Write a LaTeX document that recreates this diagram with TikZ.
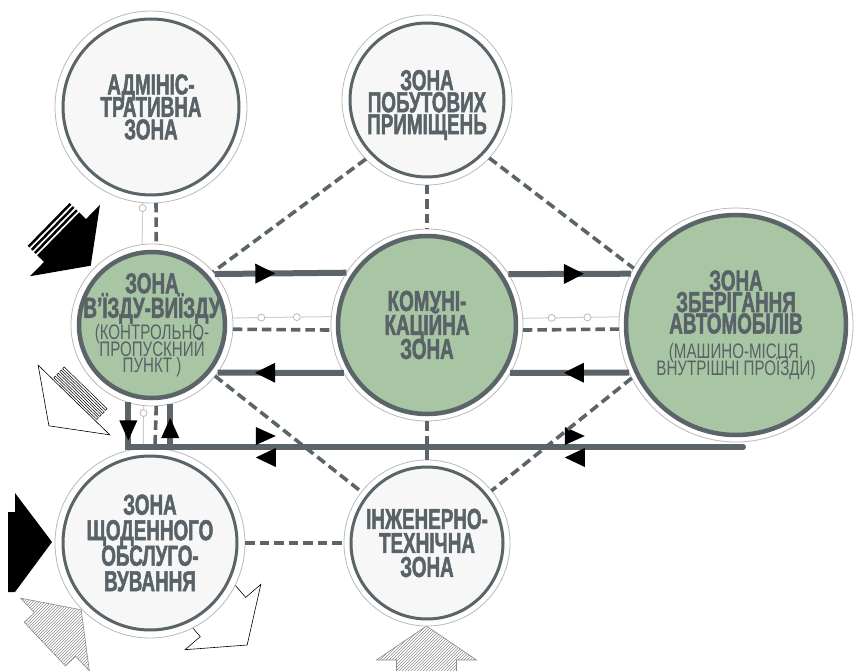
\documentclass[tikz,border=0pt]{standalone}
\usepackage{fontspec}
\setmainfont{Liberation Sans}[FakeStretch=0.65, BoldFeatures={FakeBold=1.6}]
\newfontfamily\zsmallfamily{Liberation Sans}[FakeStretch=0.72]
\usetikzlibrary{patterns,decorations.markings,backgrounds}

\definecolor{zgreen}{RGB}{168,197,164}
\definecolor{zdark}{RGB}{90,100,105}
\definecolor{ztext}{RGB}{88,98,103}
\definecolor{zpale}{RGB}{247,247,247}
\definecolor{zring}{RGB}{185,185,185}
\definecolor{zthin}{RGB}{205,205,205}
\definecolor{zhatch}{RGB}{140,140,140}

\newcommand\zbf[1]{\fontsize{29}{#1}\selectfont\bfseries\lineskiplimit=-100pt\relax}
\newcommand\zsm{\zsmallfamily\fontsize{21}{17}\selectfont\mdseries}

\tikzset{
  zone/.style={circle, draw=zdark, line width=3pt, inner sep=0pt},
  green zone/.style={zone, fill=zgreen, line width=4.5pt},
  pale zone/.style={zone, fill=zpale},
  ztxt/.style={align=center, text=ztext, inner sep=0pt},
  ring/.style={draw=zring, line width=0.8pt, fill=white},
  flow/.style={draw=zdark, line width=6pt},
  link/.style={draw=zdark, line width=3.6pt, dash pattern=on 9.5pt off 5pt},
  hint/.style={draw=zthin, line width=1pt},
  knot/.style={circle, draw=zring, fill=white, line width=0.8pt, minimum size=7pt, inner sep=0pt},
  fwd/.style={postaction={decorate, decoration={markings,
      mark=at position #1 with {\fill[black] (-10pt,-10pt) -- (10pt,0pt) -- (-10pt,10pt) -- cycle;}}}},
  outline arrow/.style={draw=black, line width=0.6pt, fill=white},
  hatched arrow/.style={draw=zhatch, line width=0.6pt, pattern=north east lines, pattern color=zhatch},
}

\begin{document}
\begin{tikzpicture}[x=1pt,y=-1pt]
\useasboundingbox (0,0) rectangle (854,671);

% zones
\node[pale zone,  minimum size=176pt, outer sep=8pt] (adm)   at (151,107) {};
\node[pale zone,  minimum size=154pt, outer sep=8pt] (pob)   at (427,100) {};
\node[green zone, minimum size=146pt, outer sep=8pt] (ent)   at (152,325) {};
\node[green zone, minimum size=178pt, outer sep=7pt] (comm)  at (427,325) {};
\node[green zone, minimum size=220pt, outer sep=7pt] (stor)  at (736,325) {};
\node[pale zone,  minimum size=174pt, outer sep=8pt] (daily) at (150,543) {};
\node[pale zone,  minimum size=152pt, outer sep=7pt] (eng)   at (427,543) {};

\begin{pgfonlayer}{background}
  % entrance arrow, upper left
  \begin{scope}[shift={(65,240.5)}, rotate=-44.4]
    \fill[black] (0pt,50pt) -- (36pt,0pt) -- (0pt,-50pt) -- cycle;
    \fill[black] (-9.5pt,-30pt) rectangle (0.5pt,30pt);
    \fill[black] (-14pt,-30pt) rectangle (-11.5pt,30pt);
    \fill[black] (-18.5pt,-30pt) rectangle (-16pt,30pt);
    \fill[black] (-23pt,-30pt) rectangle (-20.5pt,30pt);
  \end{scope}
  % exit arrow, lower left of the entry zone
  \begin{scope}[shift={(74,400)}, rotate=-134.2]
    \draw[outline arrow] (0pt,50pt) -- (36pt,0pt) -- (0pt,-50pt) -- cycle;
    \draw[outline arrow, line width=0.5pt] (-4.2pt,-30pt) rectangle (-2pt,30pt);
    \draw[outline arrow, line width=0.5pt] (-8.4pt,-30pt) rectangle (-6.2pt,30pt);
    \draw[outline arrow, line width=0.5pt] (-12.6pt,-30pt) rectangle (-10.4pt,30pt);
    \draw[outline arrow, line width=0.5pt] (-16.8pt,-30pt) rectangle (-14.6pt,30pt);
  \end{scope}
  % arrows around the daily service zone
  \fill[black] (8,512) -- (15,512) -- (15,493) -- (52,542) -- (15,592) -- (8,592) -- cycle;
  \begin{scope}[shift={(55,634.5)}, rotate=43.4]
    \draw[hatched arrow] (0pt,50pt) -- (36pt,0pt) -- (0pt,-50pt) -- (0pt,-30pt)
      -- (-14pt,-30pt) -- (-14pt,30pt) -- (0pt,30pt) -- cycle;
  \end{scope}
  \begin{scope}[shift={(223,617)}, rotate=-49.2]
    \draw[outline arrow] (0pt,50pt) -- (37pt,0pt) -- (0pt,-50pt) -- (0pt,-30pt)
      -- (-25pt,-30pt) -- (-25pt,30pt) -- (0pt,30pt) -- cycle;
  \end{scope}
  % arrow below the engineering zone
  \begin{scope}[shift={(426.5,660)}, rotate=90]
    \draw[hatched arrow] (0pt,50pt) -- (34pt,0pt) -- (0pt,-50pt) -- (0pt,-30pt)
      -- (-20pt,-30pt) -- (-20pt,30pt) -- (0pt,30pt) -- cycle;
  \end{scope}
  % outer rings
  \foreach \n/\r in {adm/96pt, pob/85pt, ent/81pt, comm/96pt, stor/117pt, daily/95pt, eng/83pt}
    \draw[ring] (\n.center) circle (\r);
\end{pgfonlayer}

% light auxiliary lines
\draw[hint] (adm.-95.4) -- node[knot, pos=0.13] (k1) {} (ent.97.1);
\draw[hint] (ent.-96.4) -- node[knot, pos=0.175] (k2) {} (daily.94.2);
\draw[hint] (ent.5.7) -- node[knot, pos=0.29] (k3) {} node[knot, pos=0.65] (k4) {} (comm.175.2);
\draw[hint] (comm.4.8) -- node[knot, pos=0.30] (k5) {} node[knot, pos=0.67] (k6) {} (stor.176.1);

% traffic flows
\draw[flow, fwd=0.383] (ent.39) -- (comm.147.9);
\draw[flow, fwd=0.535] (comm.32.1) -- (stor.154.2);
\draw[flow, fwd=0.623] (comm.210) -- (ent.-36.3);
\draw[flow, fwd=0.464] (stor.204.2) -- (comm.-30);

\coordinate (bus) at (743,447);
\draw[flow, postaction={decorate, decoration={markings,
    mark=at position 28pt with {\fill[black] (-10pt,-9pt) -- (10pt,0pt) -- (-10pt,9pt) -- cycle;},
    mark=at position 182pt with {\fill[black] (-10pt,2pt) -- (10pt,11pt) -- (-10pt,20pt) -- cycle;
                                 \fill[black] (10pt,-1pt) -- (-10pt,-10.5pt) -- (10pt,-20pt) -- cycle;},
    mark=at position 491pt with {\fill[black] (-10pt,2pt) -- (10pt,11pt) -- (-10pt,20pt) -- cycle;
                                 \fill[black] (10pt,-1pt) -- (-10pt,-10.5pt) -- (10pt,-20pt) -- cycle;}}}]
  (ent.-107.2) |- (bus);
\fill[zdark] (bus) circle (3pt);
\draw[flow, postaction={decorate, decoration={markings,
    mark=at position 19pt with {\fill[black] (-10pt,-9pt) -- (10pt,0pt) -- (-10pt,9pt) -- cycle;}}}]
  (ent.-77.2 |- bus) -- (ent.-77.2);

% functional links
\draw[link] (adm.-87) -- (ent.87.2);
\draw[link] (ent.-87.9) -- (daily.87);
\draw[link] (ent.-3.5) -- (comm.183);
\draw[link] (comm.-3) -- (stor.182.4);
\draw[link] (pob.-90) -- (comm.90);
\draw[link] (pob.224) -- (ent.41);
\draw[link] (pob.-43) -- (stor.151);
\draw[link] (ent.-39.5) -- (eng.142.2);
\draw[link] (stor.207.4) -- (eng.39.5);
\draw[link] (comm.-90) -- (eng.90);
\draw[link] (daily.0) -- (eng.180);

% labels
\node[ztxt, font={\zbf{22.5}}] (admT) at (adm) {АДМІНІС-\\ТРАТИВНА\\ЗОНА};
\node[ztxt, font={\zbf{22}}] (pobT) at ([yshift=-5pt]pob.center) {ЗОНА\\ПОБУТОВИХ\\ПРИМІЩЕНЬ};
\node[ztxt, font={\zbf{24.5}}] (entT) at (ent) {ЗОНА\\В'ЇЗДУ-ВИЇЗДУ\\[-2.7pt]{\zsm (КОНТРОЛЬНО-}\\[-8pt]{\zsm ПРОПУСКНИЙ}\\[-8pt]{\zsm ПУНКТ )}};
\node[ztxt, font={\zbf{24}}] (commT) at (comm) {КОМУНІ-\\КАЦІЙНА\\ЗОНА};
\node[ztxt, font={\zbf{21.5}}] (storT) at (stor) {ЗОНА\\ЗБЕРІГАННЯ\\АВТОМОБІЛІВ\\[3.3pt]{\zsm (МАШИНО-МІСЦЯ,}\\[-4.5pt]{\zsm ВНУТРІШНІ ПРОЇЗДИ)}};
\node[ztxt, font={\zbf{25.5}}] (dailyT) at (daily) {ЗОНА\\ЩОДЕННОГО\\ОБСЛУГО-\\ВУВАННЯ};
\node[ztxt, font={\zbf{24}}] (engT) at (eng) {ІНЖЕНЕРНО-\\ТЕХНІЧНА\\ЗОНА};
\end{tikzpicture}
\end{document}
